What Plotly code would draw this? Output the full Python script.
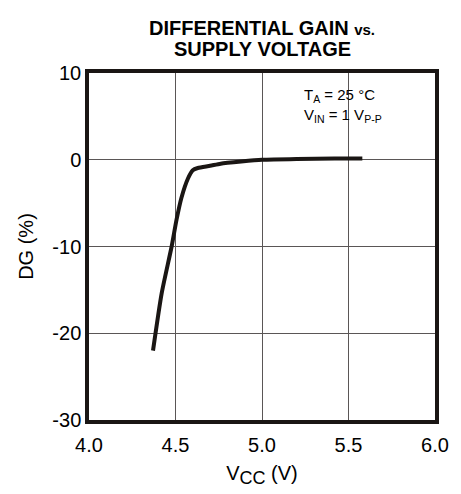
import plotly.graph_objects as go

# Data
vcc = [4.37, 4.42, 4.478, 4.506, 4.534, 4.572, 4.60, 4.629, 4.70, 4.761, 4.88, 5.0, 5.2, 5.42, 5.58]
dg = [-22.0, -15.4, -9.97, -6.9, -4.4, -2.16, -1.2, -0.95, -0.7, -0.45, -0.2, 0.0, 0.1, 0.15, 0.15]

x_ticks = [4.0, 4.5, 5.0, 5.5, 6.0]
x_tick_labels = ["4.0", "4.5", "5.0", "5.5", "6.0"]
y_ticks = [-30, -20, -10, 0, 10]
y_tick_labels = ["-30", "-20", "-10", "0", "10"]

FONT = "Arial, Liberation Sans, Helvetica, sans-serif"
DARK = "#1a1614"
GRID = "#5a5656"

fig = go.Figure()
fig.add_trace(go.Scatter(x=vcc, y=dg, mode="lines",
                         line=dict(color=DARK, width=4, shape="spline", smoothing=0.6),
                         showlegend=False, hoverinfo="skip"))

fig.update_layout(
    width=461, height=494,
    margin=dict(l=89, r=19, t=73, b=70),
    paper_bgcolor="white", plot_bgcolor="white",
    font=dict(family=FONT, size=20, color="black"),
    showlegend=False,
)
fig.update_xaxes(range=[4.0, 6.0], tickvals=x_ticks, ticktext=x_tick_labels,
                 showgrid=True, gridcolor=GRID, gridwidth=1.2,
                 showline=True, linecolor=DARK, linewidth=3.5, mirror=True,
                 ticks="", zeroline=False, ticklabelstandoff=4,
                 title=dict(text="V<sub><span style='font-size:18px'>CC</span></sub> (V)",
                            font=dict(size=20), standoff=12))
fig.update_yaxes(range=[-30, 10], tickvals=y_ticks, ticktext=y_tick_labels,
                 showgrid=True, gridcolor=GRID, gridwidth=1.2,
                 showline=True, linecolor=DARK, linewidth=3.5, mirror=True,
                 ticks="", zeroline=False,
                 title=dict(text="DG (%)", font=dict(size=20), standoff=14))

fig.add_annotation(x=0.5, y=1, xref="paper", yref="paper", xanchor="center", yanchor="middle",
                   yshift=45, showarrow=False,
                   text="<b>DIFFERENTIAL GAIN <span style='font-size:15px'>vs.</span></b>",
                   font=dict(size=20, family=FONT, color="black"))
fig.add_annotation(x=0.5, y=1, xref="paper", yref="paper", xanchor="center", yanchor="middle",
                   yshift=24, showarrow=False,
                   text="<b>SUPPLY VOLTAGE</b>",
                   font=dict(size=20, family=FONT, color="black"))
fig.add_annotation(x=5.23, y=6.2, xref="x", yref="y", xanchor="left", yanchor="middle",
                   showarrow=False, align="left",
                   text="T<sub>A</sub> = 25 °C<br>V<sub>IN</sub> = 1 V<sub>P-P</sub>",
                   font=dict(size=15, family=FONT, color="black"))

fig.write_html("out.html")
